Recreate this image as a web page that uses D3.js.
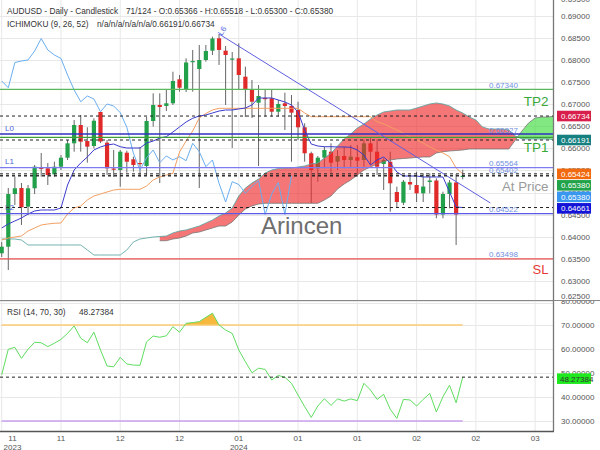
<!DOCTYPE html>
<html><head><meta charset="utf-8">
<script src="https://cdn.jsdelivr.net/npm/d3@7"></script>
<style>
body{margin:0;background:#fff}
svg{display:block;font-family:"Liberation Sans",Arial,sans-serif}
</style>
</head><body>
<svg id="chart" width="600" height="450"></svg>
<script>
// ---------------- DATA ----------------
const open = [0.63624,0.63773,0.64967,0.65103,0.64680,0.65097,0.65568,0.65550,0.65414,0.65586,
 0.65790,0.66116,0.66531,0.66168,0.66055,0.66826,0.66130,0.65545,0.65511,0.65903,
 0.65754,0.65670,0.65602,0.66622,0.66984,0.66962,0.67023,0.67567,0.67347,0.67959,
 0.67800,0.68004,0.68215,0.68496,0.68215,0.68015,0.68042,0.67626,0.67324,0.67036,
 0.67143,0.67136,0.66832,0.67023,0.66962,0.66871,0.66479,0.65890,0.65550,0.65790,
 0.65926,0.65699,0.65829,0.65738,0.65799,0.65738,0.66116,0.65926,0.65647,0.65699,
 0.65013,0.64770,0.65239,0.65171,0.64983,0.65239,0.65273,0.64503,0.64967,0.65228,
 0.65366];
const high = [0.63880,0.65103,0.65364,0.65217,0.65171,0.65625,0.65897,0.65670,0.65699,0.65851,
 0.66191,0.66644,0.66758,0.66479,0.66683,0.66832,0.66191,0.65965,0.65965,0.65949,
 0.65813,0.66033,0.66712,0.67249,0.67249,0.67324,0.67739,0.67664,0.68042,0.68231,
 0.68344,0.68344,0.68532,0.68593,0.68321,0.68185,0.68382,0.67852,0.67551,0.67437,
 0.67324,0.67324,0.67098,0.67263,0.67211,0.67059,0.66570,0.65926,0.65829,0.66039,
 0.66116,0.65965,0.66039,0.66078,0.66078,0.66207,0.66230,0.66207,0.65776,0.65926,
 0.65133,0.65285,0.65360,0.65473,0.65437,0.65437,0.65323,0.65020,0.65285,0.65421,
 0.65518];
const low = [0.63540,0.63245,0.64718,0.64265,0.64492,0.64967,0.65360,0.65171,0.65360,0.65511,
 0.65738,0.65926,0.65926,0.65677,0.66003,0.66123,0.65398,0.65353,0.65133,0.65450,
 0.65473,0.65360,0.65398,0.66493,0.65217,0.66848,0.66984,0.67286,0.67279,0.67286,
 0.65103,0.67965,0.68117,0.67891,0.66984,0.66010,0.67324,0.66712,0.66690,0.65602,
 0.66719,0.66719,0.66719,0.66418,0.65699,0.66191,0.65699,0.64764,0.65246,0.65550,
 0.65437,0.65511,0.65550,0.65586,0.65360,0.65586,0.65625,0.65398,0.65058,0.64566,
 0.64662,0.64718,0.65058,0.64786,0.64786,0.64983,0.64417,0.64417,0.64643,0.63812,
 0.65300];
const close = [0.63773,0.64967,0.65097,0.64666,0.65097,0.65586,0.65534,0.65398,0.65586,0.65790,
 0.66116,0.66531,0.66153,0.66039,0.66628,0.66157,0.65550,0.65516,0.65926,0.65699,
 0.65625,0.65647,0.66622,0.66984,0.66939,0.67023,0.67528,0.67376,0.67947,0.67981,
 0.68004,0.68208,0.68491,0.68231,0.68117,0.68038,0.67664,0.67324,0.67059,0.67188,
 0.67120,0.66832,0.67007,0.66962,0.66810,0.66479,0.65890,0.65511,0.65790,0.65965,
 0.65677,0.65829,0.65738,0.65813,0.65722,0.66116,0.65926,0.65586,0.65738,0.65210,
 0.64786,0.65246,0.65183,0.64983,0.65137,0.65273,0.64503,0.64967,0.65228,0.64503,
 0.65380];
const tenkan = [0.64197,0.64288,0.64356,0.64424,0.64514,0.64582,0.64605,0.64605,0.64605,0.64650,
 0.65171,0.65511,0.65670,0.65806,0.65965,0.66033,0.66078,0.66100,0.66039,0.66010,
 0.66010,0.66010,0.66123,0.66168,0.66236,0.66266,0.66372,0.66486,0.66599,0.66683,
 0.66735,0.66758,0.66803,0.66848,0.66871,0.66871,0.66894,0.66916,0.66984,0.67143,
 0.67143,0.67143,0.67098,0.67052,0.66984,0.66826,0.66418,0.66100,0.66055,0.66039,
 0.66039,0.66033,0.66033,0.66026,0.65965,0.65851,0.65625,0.65738,0.65806,0.65670,
 0.65466,0.65375,0.65375,0.65375,0.65353,0.65353,0.65353,0.65353,0.65013,0.64673,
 0.64661];
const kijun = [0.63925,0.63970,0.63993,0.64016,0.64129,0.64197,0.64265,0.64288,0.64304,0.64310,
 0.64514,0.64650,0.64696,0.64832,0.64922,0.64967,0.65013,0.65058,0.65074,0.65074,
 0.65074,0.65074,0.65149,0.65285,0.65353,0.65398,0.65437,0.65919,0.66168,0.66395,
 0.66690,0.66792,0.66871,0.66909,0.66909,0.66909,0.66909,0.66909,0.66909,0.66909,
 0.66909,0.66909,0.66909,0.66909,0.66909,0.66909,0.66803,0.66719,0.66719,0.66719,
 0.66719,0.66719,0.66719,0.66719,0.66719,0.66719,0.66719,0.66606,0.66554,0.66486,
 0.66418,0.66343,0.66259,0.66191,0.66123,0.66033,0.65965,0.65897,0.65813,0.65557,
 0.65424];
const spanA = [0.63948,0.63948,0.63948,0.63925,0.63812,0.63812,0.63812,0.63812,0.63812,0.63812,
 0.63812,0.63812,0.63812,0.63699,0.63585,0.63585,0.63585,0.63585,0.63585,0.63699,
 0.63880,0.63948,0.63970,0.63993,0.64004,
 0.64016,0.64084,0.64129,0.64152,0.64197,0.64242,0.64310,0.64378,0.64469,0.64537,
 0.64650,0.64922,0.65103,0.65217,0.65307,0.65443,0.65511,0.65545,0.65557,0.65557,
 0.65579,0.65602,0.65647,
 0.65670,0.65783,0.65890,0.66055,0.66214,0.66327,0.66463,0.66554,0.66667,0.66758,
 0.66826,0.66848,0.66871,0.66871,0.66871,0.66916,0.66962,0.67007,0.67030,0.67007,
 0.66962,0.66871,0.66803,0.66712,0.66644,0.66486,0.66440,0.66440,0.66440,0.66418,
 0.66282,0.66214,0.66214,0.66214,0.66214,0.66214,0.66191,0.66191];
const spanB = [null,null,null,null,null,null,null,null,null,null,
 null,null,null,null,null,null,null,null,null,null,
 null,null,null,null,
 0.63909,0.63909,0.63948,0.63970,0.64016,0.64084,0.64106,0.64152,0.64197,0.64242,
 0.64242,0.64333,0.64492,0.64628,0.64696,0.64741,
 0.64757,0.64757,0.64757,0.64757,0.64757,0.64757,0.64757,0.64757,0.64757,
 0.64832,0.64922,0.65081,0.65194,0.65285,0.65398,0.65511,0.65579,0.65647,0.65704,
 0.65738,0.65761,0.65772,0.65783,0.65795,0.65806,0.65806,0.65897,0.65926,0.65942,
 0.65953,0.65965,
 0.65987,0.65987,0.65987,0.65987,0.65987,0.65987,0.65987,
 0.66191,0.66395,0.66576,0.66690,0.66712,0.66712,0.66734,0.66734];
const rsi = [49.2,59.9,60.7,56.1,59.9,62.8,62.6,61.0,62.4,64.0,
 66.5,69.6,64.5,62.6,67.0,59.6,52.9,52.6,56.5,53.75,
 53.3,53.2,63.0,65.4,64.9,65.5,69.3,67.0,70.7,71.0,
 71.4,73.2,74.9,70.0,67.9,66.5,59.6,54.7,50.1,52.0,
 51.5,47.1,49.0,48.2,45.7,40.8,36.0,31.5,36.25,39.3,
 36.5,39.2,38.3,39.2,38.5,45.7,42.9,39.0,41.1,34.9,
 31.1,39.0,38.75,36.25,39.0,41.5,33.75,40.1,44.9,37.6,
 48.27384];

const xTickBars = [0,9,18,27,36,45,54,63,72,81];
const xTickMonths = ["11","11","12","12","01","01","01","02","02","03"];
const xTickYears = ["2023","","","","2024","","","","",""];
const priceTicks = [0.625,0.630,0.635,0.640,0.645,0.650,0.655,0.660,0.665,0.670,0.675,0.680,0.685,0.690,0.695];
const rsiTicks = [30,40,50,60,70,80];

const levelNames = ["TP2","L0","TP1","L1","L2","SL"];
const levelValues = [0.67340,0.66327,0.66252,0.65564,0.64522,0.63498];
const priceNoteValues = [0.67340,0.66327,0.65564,0.65402,0.64522,0.63498];
const tradeLabels = ["TP2","TP1","At Price","SL"];
const tagValues = [0.66734,0.66191,0.65424,0.65380,0.65380,0.64661];
const trendBars = [33,74.2];
const trendPrices = [0.68593,0.64764];
const rsiValueNow = 48.27384;

// ---------------- LAYOUT ----------------
const plotR = 553, mainTop = 0, mainBot = 300, rsiTop = 301, rsiBot = 431;
const svg = d3.select("#chart");
const x = d3.scaleLinear().domain([-0.258, 83.71]).range([0, plotR]);
const y = d3.scaleLinear().domain([0.625654, 0.693635]).range([mainBot, mainTop]);
const yR = d3.scaleLinear().domain([25.833, 80]).range([rsiBot, rsiTop]);

const defs = svg.append("defs");
defs.append("clipPath").attr("id","cm").append("rect").attr("x",0).attr("y",mainTop).attr("width",plotR).attr("height",mainBot-mainTop);
defs.append("clipPath").attr("id","cr").append("rect").attr("x",0).attr("y",rsiTop).attr("width",plotR).attr("height",rsiBot-rsiTop);
defs.append("clipPath").attr("id","am").append("rect").attr("x",plotR).attr("y",0).attr("width",600-plotR).attr("height",mainBot);
defs.append("clipPath").attr("id","ar").append("rect").attr("x",plotR).attr("y",rsiTop).attr("width",600-plotR).attr("height",rsiBot-rsiTop);

svg.append("rect").attr("width",600).attr("height",450).attr("fill","#fff");

// grid
const grid = svg.append("g").attr("stroke","#e8e8e8").attr("stroke-width",1);
grid.selectAll("line.v").data(xTickBars).join("line")
  .attr("x1",d=>x(d)).attr("x2",d=>x(d)).attr("y1",0).attr("y2",rsiBot);
grid.selectAll("line.hm").data(priceTicks).join("line")
  .attr("x1",0).attr("x2",plotR).attr("y1",d=>Math.round(y(d))+0.5).attr("y2",d=>Math.round(y(d))+0.5);
grid.selectAll("line.hr").data(rsiTicks).join("line")
  .attr("x1",0).attr("x2",plotR).attr("y1",d=>Math.round(yR(d))+0.5).attr("y2",d=>Math.round(yR(d))+0.5);

// ---------------- MAIN PANE ----------------
const gm = svg.append("g").attr("clip-path","url(#cm)");
const idx = d3.range(close.length);
const bw = 4.2;
gm.append("g").selectAll("line").data(idx).join("line")
  .attr("x1",i=>x(i)).attr("x2",i=>x(i))
  .attr("y1",i=>y(high[i])).attr("y2",i=>y(low[i]))
  .attr("stroke","#666").attr("stroke-width",1);
gm.append("g").selectAll("rect").data(idx).join("rect")
  .attr("x",i=>x(i)-bw/2).attr("width",bw)
  .attr("y",i=>y(Math.max(open[i],close[i])))
  .attr("height",i=>Math.max(1.2,Math.abs(y(open[i])-y(close[i]))))
  .attr("fill",i=>close[i]>=open[i]?"#22a04a":"#e02a2a");

// cloud
const cpts = [];
for (let i=0;i<spanA.length;i++){
  if (spanB[i]==null) continue;
  const a=spanA[i], b=spanB[i];
  cpts.push({i,a,b});
  if (i+1<spanA.length && spanB[i+1]!=null){
    const d0=a-b, d1=spanA[i+1]-spanB[i+1];
    if (d0*d1<0){ const t=d0/(d0-d1); const v=a+t*(spanA[i+1]-a); cpts.push({i:i+t,a:v,b:v}); }
  }
}
const areaRed = d3.area().x(d=>x(d.i)).y0(d=>y(d.b)).y1(d=>y(d.a)).defined(d=>d.a>=d.b);
const areaGreen = d3.area().x(d=>x(d.i)).y0(d=>y(d.b)).y1(d=>y(d.a)).defined(d=>d.a<=d.b);
gm.append("path").datum(cpts).attr("d",areaRed).attr("fill","rgb(240,40,40)").attr("fill-opacity",0.64);
gm.append("path").datum(cpts).attr("d",areaGreen).attr("fill","rgb(60,220,60)").attr("fill-opacity",0.64);

const lineGen = (xs, ys) => d3.line().x(xs).y(ys);
const spanAPts = spanA.map((v,i)=>({i,v}));
const spanBPts = spanB.map((v,i)=>({i,v})).filter(d=>d.v!=null);
gm.append("path").datum(spanAPts).attr("d",d3.line().x(d=>x(d.i)).y(d=>y(d.v)))
  .attr("fill","none").attr("stroke","#5aa6a2").attr("stroke-width",1).attr("stroke-opacity",0.85);
gm.append("path").datum(spanBPts).attr("d",d3.line().x(d=>x(d.i)).y(d=>y(d.v)))
  .attr("fill","none").attr("stroke","#777").attr("stroke-width",1).attr("stroke-opacity",0.8);

// chikou (close shifted back 26 bars)
const chikou = close.slice(26).map((v,j)=>({i:j,v}));
gm.append("path").datum(chikou).attr("d",d3.line().x(d=>x(d.i)).y(d=>y(d.v)))
  .attr("fill","none").attr("stroke","#6aaef0").attr("stroke-width",1);
gm.append("path").datum(kijun.map((v,i)=>({i,v}))).attr("d",d3.line().x(d=>x(d.i)).y(d=>y(d.v)))
  .attr("fill","none").attr("stroke","#f3a064").attr("stroke-width",1);
gm.append("path").datum(tenkan.map((v,i)=>({i,v}))).attr("d",d3.line().x(d=>x(d.i)).y(d=>y(d.v)))
  .attr("fill","none").attr("stroke","#3c3ccf").attr("stroke-width",1);

// level lines
const levelColor = {TP2:"#5cb85c",L0:"#3030c0",TP1:"#3a9e3a",L1:"#7c7cf0",L2:"#5a5ae6",SL:"#e85050"};
gm.append("g").selectAll("line").data(levelNames).join("line")
  .attr("x1",0).attr("x2",plotR)
  .attr("y1",(d,k)=>y(levelValues[k])).attr("y2",(d,k)=>y(levelValues[k]))
  .attr("stroke",d=>levelColor[d]).attr("stroke-width",1.3);

// trendline
gm.append("line")
  .attr("x1",x(trendBars[0])).attr("y1",y(trendPrices[0]))
  .attr("x2",x(trendBars[1])).attr("y2",y(trendPrices[1]))
  .attr("stroke","#5f5fe0").attr("stroke-width",1);
gm.append("text").attr("transform",`translate(${x(trendBars[0])+3},${y(trendPrices[0])+2}) rotate(-58)`)
  .attr("font-size",8).attr("fill","#5a6ee0").text("L6");

// dashed last value lines
gm.append("g").selectAll("line").data(tagValues).join("line")
  .attr("x1",0).attr("x2",plotR)
  .attr("y1",d=>y(d)).attr("y2",d=>y(d))
  .attr("stroke","#222").attr("stroke-width",1).attr("stroke-dasharray","3,3");

// small price notes
gm.append("g").selectAll("text").data(priceNoteValues).join("text")
  .attr("x",489).attr("y",d=>y(d)-1.5)
  .attr("font-size",8).attr("fill","#6f8fe0").text(d=>d.toFixed(5));

// L labels
["L0","L1","L2"].forEach(n=>{
  const v = levelValues[levelNames.indexOf(n)];
  gm.append("text").attr("x",5).attr("y",y(v)-3.5).attr("font-size",8).attr("fill","#4a5ed8").text(n);
});

// trade labels
const tradeStyle = {"TP2":["#38a838",13.5],"TP1":["#38a838",13.5],"At Price":["#9a9a9a",13.3],"SL":["#e53935",13]};
const tradeVals = [levelValues[0], levelValues[2], priceNoteValues[3], levelValues[5]];
const tradeOffsets = [16.5, 14.5, 16, 15.5];
tradeLabels.forEach((t,k)=>{
  gm.append("text").attr("x",548.5).attr("y",y(tradeVals[k])+tradeOffsets[k])
    .attr("text-anchor","end").attr("font-size",tradeStyle[t][1]).attr("fill",tradeStyle[t][0]).text(t);
});

// watermark
gm.append("text").attr("x",261).attr("y",234).attr("font-size",24).attr("fill","#6e6e6e").text("Arincen");

// ---------------- RSI PANE ----------------
const gr = svg.append("g").attr("clip-path","url(#cr)");
const rp = [];
for (let i=0;i<rsi.length;i++){
  rp.push({i,v:rsi[i]});
  if (i+1<rsi.length && (rsi[i]-70)*(rsi[i+1]-70)<0){
    const t=(70-rsi[i])/(rsi[i+1]-rsi[i]); rp.push({i:i+t,v:70});
  }
}
gr.append("path").datum(rp)
  .attr("d",d3.area().x(d=>x(d.i)).y0(yR(70)).y1(d=>yR(d.v)).defined(d=>d.v>=70))
  .attr("fill","#f6b93e");
gr.append("line").attr("x1",x(0)).attr("x2",x(rsi.length-1)).attr("y1",yR(70)).attr("y2",yR(70))
  .attr("stroke","#fbcd73").attr("stroke-width",1.5);
gr.append("line").attr("x1",x(0)).attr("x2",x(rsi.length-1)).attr("y1",yR(30)).attr("y2",yR(30))
  .attr("stroke","#c9a2ee").attr("stroke-width",1.5);
gr.append("path").datum(rsi.map((v,i)=>({i,v})))
  .attr("d",d3.line().x(d=>x(d.i)).y(d=>yR(d.v)))
  .attr("fill","none").attr("stroke","#5fdd5f").attr("stroke-width",1);
gr.append("line").attr("x1",0).attr("x2",plotR).attr("y1",yR(rsiValueNow)).attr("y2",yR(rsiValueNow))
  .attr("stroke","#222").attr("stroke-width",1).attr("stroke-dasharray","3,3");

// ---------------- AXES ----------------
svg.append("line").attr("x1",0).attr("x2",600).attr("y1",300.5).attr("y2",300.5).attr("stroke","#888").attr("stroke-width",1.2);
svg.append("line").attr("x1",plotR+0.5).attr("x2",plotR+0.5).attr("y1",0).attr("y2",rsiBot).attr("stroke","#777").attr("stroke-width",1.3);
svg.append("line").attr("x1",0).attr("x2",plotR+1).attr("y1",rsiBot+0.5).attr("y2",rsiBot+0.5).attr("stroke","#555").attr("stroke-width",1.3);

const am = svg.append("g").attr("clip-path","url(#am)");
am.selectAll("text").data(priceTicks).join("text")
  .attr("x",561).attr("y",d=>{let c=y(d); if(c<0) c=-1; if(c>296) c=296; return c+3;})
  .attr("font-size",8).attr("fill","#555").text(d=>d.toFixed(5));

const ar = svg.append("g").attr("clip-path","url(#ar)");
ar.selectAll("text").data(rsiTicks).join("text")
  .attr("x",561).attr("y",d=>yR(d)+3)
  .attr("font-size",8).attr("fill","#555").text(d=>d.toFixed(5));

// value tags on price axis
const tagColors = ["#d81e4b","#168080","#f26a10","#22a34a","#3a97f0","#1414d8"];
let prev = -100;
tagValues.forEach((v,k)=>{
  let c = Math.max(y(v), prev+11.5); prev = c;
  am.append("rect").attr("x",557).attr("y",c-5.3).attr("width",34).attr("height",10.6).attr("fill",tagColors[k]);
  am.append("text").attr("x",561).attr("y",c+3).attr("font-size",8).attr("fill","#fff").text(v.toFixed(5));
});
{
  const c = yR(rsiValueNow)+1.5;
  ar.append("rect").attr("x",557).attr("y",c-5.3).attr("width",34).attr("height",10.6).attr("fill","#1ee81e");
  ar.append("text").attr("x",560).attr("y",c+3).attr("font-size",8).attr("fill","#333").text(rsiValueNow.toFixed(5));
}

// x tick labels
xTickBars.forEach((b,k)=>{
  let cx = x(b); if (cx < 12.5) cx = 12.5;
  svg.append("text").attr("x",cx).attr("y",441).attr("text-anchor","middle").attr("font-size",8).attr("fill","#555").text(xTickMonths[k]);
  if (xTickYears[k]) svg.append("text").attr("x",cx).attr("y",449.5).attr("text-anchor","middle").attr("font-size",8).attr("fill","#555").text(xTickYears[k]);
});

// ---------------- HEADERS ----------------
const last = close.length-1;
const hdr = svg.append("g").attr("font-size",8.3).attr("fill","#333");
hdr.append("text").attr("x",7).attr("y",14).text("AUDUSD - Daily - Candlestick");
hdr.append("text").attr("x",126).attr("y",14)
  .text(`${close.length}/124 - O:${open[last].toFixed(5)} - H:${high[last].toFixed(5)} - L:${low[last].toFixed(5)} - C:${close[last].toFixed(5)}`);
hdr.append("text").attr("x",7).attr("y",27).text("ICHIMOKU (9, 26, 52)");
hdr.append("text").attr("x",97).attr("y",27).text(`n/a/n/a/n/a/n/a/${spanA[spanA.length-1].toFixed(5)}/${spanB[spanB.length-1].toFixed(5)}`);
hdr.append("text").attr("x",7).attr("y",315).text("RSI (14, 70, 30)");
hdr.append("text").attr("x",79).attr("y",315).text(rsiValueNow.toFixed(5));
</script>
</body></html>
